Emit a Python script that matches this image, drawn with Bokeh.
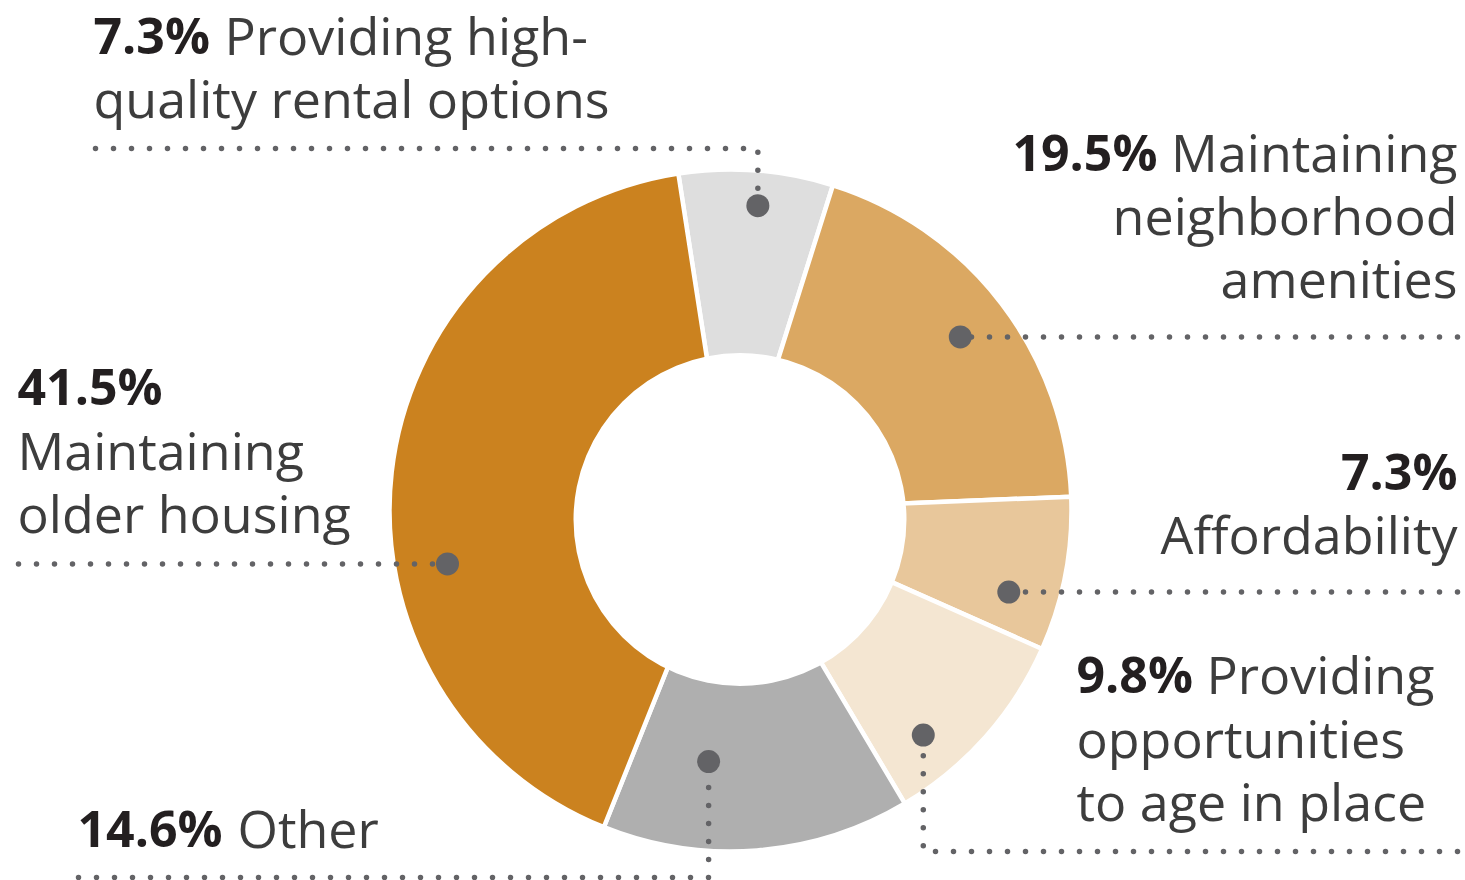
import math
from bokeh.plotting import figure
from bokeh.models import Range1d, ColumnDataSource
from bokeh.core.properties import value
from bokeh.embed import file_html
from bokeh.resources import INLINE

# ---------------- data ----------------
categories = [
    "Providing high-quality rental options",
    "Maintaining neighborhood amenities",
    "Affordability",
    "Providing opportunities to age in place",
    "Other",
    "Maintaining older housing",
]
values = [7.3, 19.5, 7.3, 9.8, 14.6, 41.5]
colors = ["#dedede", "#dba862", "#e8c79b", "#f4e6d2", "#afafaf", "#cb821f"]
pct_labels = ["7.3%", "19.5%", "7.3%", "9.8%", "14.6%", "41.5%"]

# ---------------- layout ----------------
W, H = 1465, 880
CX, CY = 730, 510          # screen coords of pie centre
R_OUT = 341
HOLE_X, HOLE_Y, R_IN = 739.5, 519, 166.5
START_DEG = -8.8           # clockwise from 12 o'clock
TEXT_SHIFT = -20           # baseline correction for the svg text renderer

def Y(v):
    return H - v

FONT = "Open Sans"
FS = "52px"
FS_B = "50px"
C_REG = "#3d3d3d"
C_BOLD = "#231f20"
DOT_C = "#636366"

p = figure(width=W, height=H, x_range=Range1d(0, W), y_range=Range1d(0, H),
           output_backend="svg", toolbar_location=None, min_border=0,
           x_axis_type=None, y_axis_type=None)
p.grid.visible = False
p.outline_line_color = None
p.background_fill_color = "white"
p.border_fill_color = "white"

# ---------------- wedges ----------------
total = sum(values)
cum = [0.0]
for v in values:
    cum.append(cum[-1] + v)
theta0 = [START_DEG + 360 * cum[i] / total for i in range(len(values))]
theta1 = [START_DEG + 360 * cum[i + 1] / total for i in range(len(values))]
src = ColumnDataSource(dict(
    cat=categories, val=values, color=colors,
    start=[math.radians(90 - t) for t in theta1],
    end=[math.radians(90 - t) for t in theta0],
))
p.wedge(x=CX, y=Y(CY), radius=R_OUT, start_angle="start", end_angle="end",
        direction="anticlock", fill_color="color", line_color="white",
        line_width=4.5, source=src)
p.circle(x=[HOLE_X], y=[Y(HOLE_Y)], radius=R_IN, fill_color="white",
         line_color=None)

# ---------------- marker dots (position inside slice) ----------------
dot_frac = [0.53, 0.505, 0.71, 0.72, 0.68, 0.385]
dot_r = [306, 288, 290, 296, 252, 288]
dx, dy = [], []
for i in range(len(values)):
    th = math.radians(theta0[i] + dot_frac[i] * (theta1[i] - theta0[i]))
    dx.append(CX + dot_r[i] * math.sin(th))
    dy.append(CY - dot_r[i] * math.cos(th))

# leader lines (start at the label end so a dot sits at the far end)
xs, ys = [], []
xs.append([95, dx[0], dx[0]]); ys.append([Y(148), Y(148), Y(dy[0])])
xs.append([1457, dx[1]]); ys.append([Y(dy[1]), Y(dy[1])])
xs.append([1457, dx[2]]); ys.append([Y(dy[2]), Y(dy[2])])
xs.append([1457, dx[3], dx[3]]); ys.append([Y(851), Y(851), Y(dy[3])])
xs.append([78, dx[4], dx[4]]); ys.append([Y(877), Y(877), Y(dy[4])])
xs.append([18, dx[5]]); ys.append([Y(dy[5]), Y(dy[5])])
p.multi_line(xs, ys, line_color=DOT_C, line_width=5.5, line_dash="0 18",
             line_cap="round")

p.scatter(x=dx, y=[Y(v) for v in dy], size=23, marker="circle",
          fill_color=DOT_C, line_color=None)

# ---------------- labels ----------------
def txt(x, y, s, bold=False, align="left"):
    p.text(x=[x], y=[Y(y + TEXT_SHIFT)], text=[s], text_font=value(FONT),
           text_font_size=FS_B if bold else FS,
           text_font_style="bold" if bold else "normal",
           text_color=C_BOLD if bold else C_REG,
           text_align=align, text_baseline="alphabetic")

# 0 Providing high-quality rental options
txt(93, 54, pct_labels[0], bold=True)
txt(224, 54, "Providing high-")
txt(93, 117, "quality rental options")
# 1 neighborhood amenities (right aligned)
txt(1457, 171, "Maintaining", align="right")
txt(1157, 171, pct_labels[1], bold=True, align="right")
txt(1457, 234, "neighborhood", align="right")
txt(1457, 297, "amenities", align="right")
# 2 Affordability
txt(1457, 490, pct_labels[2], bold=True, align="right")
txt(1457, 553, "Affordability", align="right")
# 3 age in place
txt(1076, 693, pct_labels[3], bold=True)
txt(1206, 693, "Providing")
txt(1076, 757, "opportunities")
txt(1076, 820, "to age in place")
# 4 Other
txt(77, 847, pct_labels[4], bold=True)
txt(237, 847, "Other")
# 5 older housing
txt(17, 405, pct_labels[5], bold=True)
txt(17, 469, "Maintaining")
txt(17, 532, "older housing")

open("out.html", "w").write(file_html(p, INLINE))
